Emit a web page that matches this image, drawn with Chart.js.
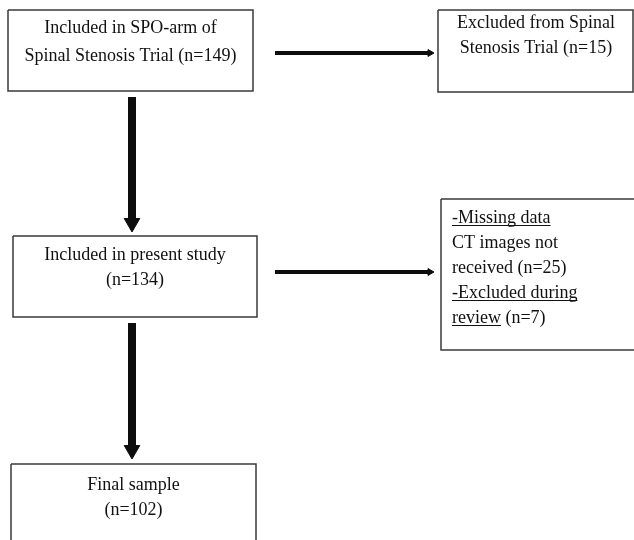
<!DOCTYPE html>
<html>
<head>
<meta charset="utf-8">
<script src="https://cdn.jsdelivr.net/npm/chart.js@4"></script>
<style>
  body { margin: 0; background: #fff; }
  canvas { display: block; }
</style>
</head>
<body>
<canvas id="flow" width="634" height="540"></canvas>
<script>
// Flow counts (n)
const counts = [149, 15, 134, 25, 7, 102];

// Text for each box, one entry per line; u = underlined
const boxText = [
    [{ t: 'Included in SPO-arm of' }, { t: `Spinal Stenosis Trial (n=${counts[0]})` }],
    [{ t: 'Excluded from Spinal' }, { t: `Stenosis Trial (n=${counts[1]})` }],
    [{ t: 'Included in present study' }, { t: `(n=${counts[2]})` }],
    [{ t: '-Missing data', u: true }, { t: 'CT images not' }, { t: `received (n=${counts[3]})` },
     { t: '-Excluded during', u: true }, { t: 'review', u: true, rest: ` (n=${counts[4]})` }],
    [{ t: 'Final sample' }, { t: `(n=${counts[5]})` }]
];

// Box layout in page units: left, top, right, bottom
const boxes = [
    [8, 10, 253, 91],
    [438, 10, 633, 92],
    [13, 236, 257, 317],
    [441, 199, 640, 350],
    [11, 464, 256, 548]
];
// Text anchor per box: x, first baseline, line step, align
const textPos = [
    [130.5, 33, 28, 'center'],
    [536, 28, 25, 'center'],
    [135, 260, 25, 'center'],
    [452, 223, 25, 'left'],
    [133.5, 490, 25, 'center']
];

// Arrows: from [x, y] to [x, y], shaft width, head radius
const arrows = [
    [[275, 53], [434, 53], 4, 4],
    [[132, 97], [132, 232], 8, 9],
    [[275, 272], [434, 272], 4, 4],
    [[132, 323], [132, 459], 8, 9]
];

const datasets = [];

boxes.forEach(b => {
    datasets.push({
        type: 'line',
        data: [
            { x: b[0], y: b[1] }, { x: b[2], y: b[1] },
            { x: b[2], y: b[3] }, { x: b[0], y: b[3] }, { x: b[0], y: b[1] }
        ],
        borderColor: '#3a3a3a',
        borderWidth: 1.5,
        pointRadius: 0,
        fill: false,
        tension: 0
    });
});

arrows.forEach(a => {
    const [p0, p1, w, r] = a;
    const horiz = p0[1] === p1[1];
    // head centre sits one radius back from the tip
    const hc = horiz ? { x: p1[0] - r, y: p1[1] } : { x: p1[0], y: p1[1] - r };
    datasets.push({
        type: 'line',
        data: [{ x: p0[0], y: p0[1] }, hc],
        borderColor: '#0d0d0d',
        borderWidth: w,
        borderCapStyle: 'butt',
        pointRadius: 0
    });
    datasets.push({
        type: 'scatter',
        data: [hc],
        pointStyle: 'triangle',
        pointRotation: horiz ? 90 : 180,
        pointRadius: r,
        backgroundColor: '#0d0d0d',
        borderColor: '#0d0d0d',
        borderWidth: 1
    });
});

// Writes the box texts through the chart scales
const boxLabels = {
    id: 'boxLabels',
    afterDatasetsDraw(chart) {
        const { ctx, scales: { x, y } } = chart;
        ctx.save();
        ctx.font = '18px "Liberation Serif", "Times New Roman", serif';
        ctx.fillStyle = '#111';
        ctx.strokeStyle = '#111';
        ctx.lineWidth = 1;
        ctx.textBaseline = 'alphabetic';
        boxText.forEach((lines, i) => {
            const [tx, ty, step, align] = textPos[i];
            lines.forEach((ln, j) => {
                const full = ln.t + (ln.rest || '');
                const fw = ctx.measureText(full).width;
                let left = x.getPixelForValue(tx);
                if (align === 'center') left -= fw / 2;
                const base = y.getPixelForValue(ty + j * step);
                ctx.textAlign = 'left';
                ctx.fillText(full, left, base);
                if (ln.u) {
                    const uw = ctx.measureText(ln.t).width;
                    ctx.beginPath();
                    ctx.moveTo(left, base + 2.5);
                    ctx.lineTo(left + uw, base + 2.5);
                    ctx.stroke();
                }
            });
        });
        ctx.restore();
    }
};

new Chart(document.getElementById('flow'), {
    type: 'scatter',
    data: { datasets: datasets },
    options: {
        responsive: false,
        animation: false,
        layout: { padding: 0, autoPadding: false },
        plugins: {
            legend: { display: false },
            tooltip: { enabled: false }
        },
        scales: {
            x: { type: 'linear', min: 0, max: 634, display: false },
            y: { type: 'linear', min: 0, max: 540, reverse: true, display: false }
        }
    },
    plugins: [boxLabels]
});
</script>
</body>
</html>
